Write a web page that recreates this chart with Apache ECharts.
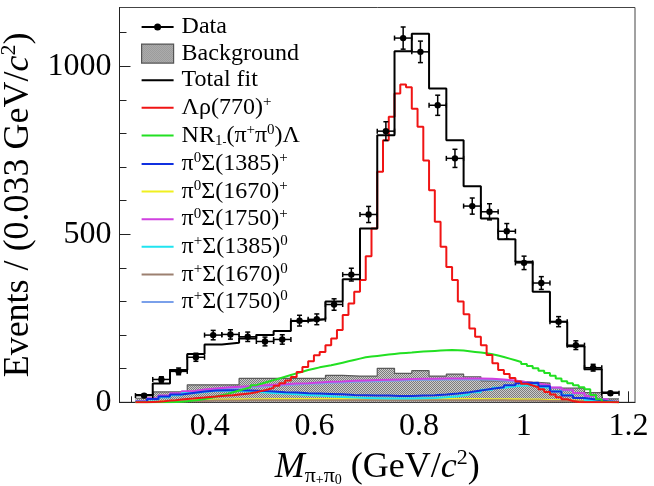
<!DOCTYPE html>
<html><head><meta charset="utf-8">
<script src="https://cdn.jsdelivr.net/npm/echarts@6/dist/echarts.min.js"></script>
<style>html,body{margin:0;padding:0;background:#fff}#c{width:654px;height:486px}</style>
</head><body><div id="c"></div>
<script>
// ---- binning (GeV/c^2) ----
const coarseLow = 0.258, coarseWidth = 0.033;   // data / fit / background bins
const fineLow = 0.258, fineWidth = 0.011;       // fine bins for rho and NR components
const midLow = 0.258, midWidth = 0.022;         // bins for the small Sigma components

// ---- tick labels ----
const xTickLabels = [0.4, 0.6, 0.8, 1, 1.2];
const xMinorTicks = [0.25, 0.3, 0.35, 0.45, 0.5, 0.55, 0.65, 0.7, 0.75, 0.85, 0.9, 0.95, 1.05, 1.1, 1.15];
const yTickLabels = [0, 500, 1000];
const yMinorTicks = [100, 200, 300, 400, 600, 700, 800, 900, 1100];

// ---- data (28 coarse bins) ----
const dataValues = [20, 68, 92, 134, 200, 202, 195, 181, 187, 243, 247, 291, 380, 559, 807, 1084, 1043, 884, 726, 584, 567, 509, 415, 355, 240, 170, 103, 27];
const dataErrors = [4.5, 8, 10, 12, 14, 14, 14, 13, 14, 16, 16, 17, 19, 24, 28, 33, 32, 30, 27, 24, 24, 23, 20, 19, 15, 13, 10, 5];
const totalFit = [22, 56, 96, 144, 172, 177, 190, 200, 212, 242, 247, 300, 366, 517, 795, 1045, 1097, 934, 780, 643, 547, 485, 418, 329, 240, 167, 98, 29];
const backgroundVals = [12, 31, 31, 52, 52, 52, 71, 71, 71, 71, 71, 80, 78, 78, 101, 86, 94, 78, 84, 76, 64, 64, 60, 57, 42, 42, 29, 10];

// ---- fine components (84 bins) ----
const rhoFine = [0, 0, 1, 2, 3, 5, 6, 8, 10, 11, 13, 14, 16, 17, 19, 20, 21, 23, 25, 27, 30, 34, 38, 43, 49, 57, 65, 75, 90, 105, 122, 140, 150, 170, 190, 215, 260, 294, 329, 364, 435, 517, 686, 780, 850, 919, 946, 938, 874, 820, 720, 631, 537, 463, 403, 364, 300, 262, 220, 195, 170, 141, 116, 96, 84, 72, 62, 55, 50, 45, 39, 31, 23, 15, 9, 4, 1, 0, 0, 0, 0, 0, 0, 0];
const nrFine = [0, 0, 0, 0, 0, 0, 1, 2, 3, 5, 7, 10, 13, 17, 21, 25, 30, 35, 40, 45, 51, 56, 61, 66, 71, 76, 81, 86, 91, 96, 100, 104, 107, 110, 114, 118, 122, 126, 130, 134, 136, 138, 140, 142, 144, 146, 147, 148, 150, 151, 152, 153, 154, 155, 156, 155, 154, 152, 150, 148, 146, 143, 139, 135, 130, 125, 120, 114, 108, 101, 94, 87, 79, 71, 63, 57, 51, 45, 39, 22, 9, 2, 0, 0];

// ---- Sigma components (42 bins) ----
const sig1385p = [2, 10, 17, 23, 28, 32, 35, 36, 36, 35, 34, 32, 30, 29, 27, 26, 25, 24, 22, 21, 20, 20, 19, 19, 20, 21, 23, 26, 30, 35, 40, 45, 51, 57, 58, 48, 32, 20, 13, 8, 3, 0];
const sig1670p = [0, 2, 4, 5, 6, 7, 8, 8, 9, 9, 9, 10, 10, 10, 10, 10, 10, 10, 10, 10, 10, 10, 10, 10, 10, 10, 10, 10, 10, 10, 9, 9, 9, 8, 8, 7, 6, 5, 4, 3, 2, 0];
const sig1750p = [3, 12, 20, 27, 33, 38, 41, 44, 46, 48, 50, 52, 54, 56, 57, 59, 61, 62, 64, 65, 66, 67, 68, 69, 70, 70, 71, 71, 71, 71, 70, 68, 65, 60, 56, 51, 44, 37, 28, 19, 9, 2];
const sig1385z = [2, 8, 15, 21, 27, 31, 34, 35, 34, 32, 30, 28, 26, 24, 22, 20, 18, 16, 14, 13, 12, 11, 11, 11, 12, 13, 15, 18, 23, 30, 37, 43, 48, 51, 50, 44, 33, 22, 13, 7, 3, 0];
const sig1670z = [0, 1, 2, 3, 4, 4, 5, 5, 5, 6, 6, 6, 6, 6, 6, 6, 6, 6, 6, 6, 6, 6, 6, 6, 6, 6, 6, 6, 6, 6, 6, 6, 5, 5, 5, 4, 4, 3, 3, 2, 1, 0];
const sig1750z = [2, 10, 17, 24, 30, 34, 38, 41, 43, 45, 47, 49, 51, 53, 55, 56, 58, 59, 61, 62, 63, 64, 65, 66, 67, 67, 68, 68, 68, 68, 67, 65, 62, 58, 54, 49, 43, 36, 27, 18, 8, 2];

// ---- colours ----
const colors = {
  'Total fit': '#000', rho: '#f01414', NR: '#22e022',
  s1385p: '#1030e0', s1670p: '#f0f020', s1750p: '#d040e0',
  s1385z: '#20e4f0', s1670z: '#9c8070', s1750z: '#7aa0ea'
};

// ---- helpers ----
function steps(low, width, vals) {
  const pts = [];
  vals.forEach((v, i) => { pts.push([low + i * width, v]); pts.push([low + (i + 1) * width, v]); });
  return pts;
}
function makePattern() {
  const cv = document.createElement('canvas'); cv.width = 2; cv.height = 2;
  const ctx = cv.getContext('2d');
  ctx.fillStyle = '#cccccc'; ctx.fillRect(0, 0, 2, 2);
  ctx.fillStyle = '#7c7c7c'; ctx.fillRect(0, 0, 1, 1); ctx.fillRect(1, 1, 1, 1);
  return { image: cv, repeat: 'repeat' };
}
const pattern = makePattern();
const serif = 'Liberation Serif';

const dataPoints = dataValues.map((v, i) => [coarseLow + (i + 0.5) * coarseWidth, v, dataErrors[i]]);

const legendText = {
  'Data': '{n|Data}',
  'Background': '{n|Background}',
  'Total fit': '{n|Total fit}',
  'rho': '{n|Λρ(770)}{sup|+}',
  'NR': '{n|NR}{sub|1}{subm|-}{n|(π}{sup|+}{n|π}{sup|0}{n|)Λ}',
  's1385p': '{n|π}{sup|0}{n|Σ(1385)}{sup|+}',
  's1670p': '{n|π}{sup|0}{n|Σ(1670)}{sup|+}',
  's1750p': '{n|π}{sup|0}{n|Σ(1750)}{sup|+}',
  's1385z': '{n|π}{sup|+}{n|Σ(1385)}{sup|0}',
  's1670z': '{n|π}{sup|+}{n|Σ(1670)}{sup|0}',
  's1750z': '{n|π}{sup|+}{n|Σ(1750)}{sup|0}'
};
const legendRich = {
  n: { fontFamily: serif, fontSize: 24, lineHeight: 26, color: '#000' },
  sup: { fontFamily: serif, fontSize: 15, lineHeight: 15, verticalAlign: 'top', color: '#000' },
  sub: { fontFamily: serif, fontSize: 15, lineHeight: 12, verticalAlign: 'bottom', color: '#000' },
  subm: { fontFamily: serif, fontSize: 12, lineHeight: 20, verticalAlign: 'bottom', color: '#000' }
};
const titleRich = {
  n: { fontFamily: serif, fontSize: 36, lineHeight: 40, color: '#000' },
  i: { fontFamily: serif, fontSize: 36, lineHeight: 40, fontStyle: 'italic', color: '#000' },
  sup: { fontFamily: serif, fontSize: 22, lineHeight: 22, verticalAlign: 'top', color: '#000' },
  sub: { fontFamily: serif, fontSize: 22, lineHeight: 22, verticalAlign: 'bottom', color: '#000' },
  subsup: { fontFamily: serif, fontSize: 14, lineHeight: 38, verticalAlign: 'bottom', color: '#000' }
};

function lineSeries(name, low, width, vals, lw) {
  return { name: name, type: 'line', data: steps(low, width, vals), symbol: 'none', showSymbol: false,
    lineStyle: { color: colors[name], width: lw }, itemStyle: { color: colors[name] }, clip: true, z: 3 };
}

const dataIcon = 'path://M0,0h0.01v0.01h-0.01z M0,8.6h32v1.8h-32z M12.5,9.5a3.5,3.5 0 1,1 7,0a3.5,3.5 0 1,1 -7,0z M31.99,18.99h0.01v0.01h-0.01z';
const lineIcon = 'path://M0,0h0.01v0.01h-0.01z M0,8.5h32v2h-32z M31.99,18.99h0.01v0.01h-0.01z';
const lineLegend = name => ({ name: name, icon: lineIcon, itemStyle: { color: colors[name], borderWidth: 0 } });

const option = {
  animation: false,
  backgroundColor: '#fff',
  grid: { left: 119.5, right: 19, top: 7.5, bottom: 83.7, show: true, borderColor: '#444', borderWidth: 1,
    containLabel: false, outerBoundsMode: 'none' },
  xAxis: [
    { type: 'value', min: 0.2275, max: 1.2125, position: 'bottom',
      name: '{i|M}{sub|π}{subsup|+}{sub|π}{subsup|0}{n| (GeV/}{i|c}{sup|2}{n|)}',
      nameLocation: 'middle', nameGap: 40, nameTextStyle: { rich: titleRich },
      axisLine: { show: true, onZero: false, lineStyle: { color: '#222', width: 1 } },
      axisTick: { show: true, inside: true, length: 11, customValues: xTickLabels, lineStyle: { color: '#222' } },
      axisLabel: { customValues: xTickLabels, fontFamily: serif, fontSize: 32, color: '#000', margin: 8,
        formatter: v => String(Math.round(v * 10) / 10) },
      splitLine: { show: false } },
    { type: 'value', min: 0.2275, max: 1.2125, position: 'bottom',
      axisLine: { show: false },
      axisTick: { show: true, inside: true, length: 6, customValues: xMinorTicks, lineStyle: { color: '#222' } },
      axisLabel: { show: false }, splitLine: { show: false } }
  ],
  yAxis: [
    { type: 'value', min: 0, max: 1175, interval: 500, position: 'left',
      name: '{n|Events / (0.033 GeV/}{i|c}{sup|2}{n|)}',
      nameLocation: 'middle', nameGap: 75, nameTextStyle: { rich: titleRich },
      axisLine: { show: true, lineStyle: { color: '#222', width: 1 } },
      axisTick: { show: true, inside: true, length: 11, customValues: yTickLabels, lineStyle: { color: '#222' } },
      axisLabel: { customValues: yTickLabels, fontFamily: serif, fontSize: 32, color: '#000', margin: 8,
        formatter: v => String(v) },
      splitLine: { show: false } },
    { type: 'value', min: 0, max: 1175, position: 'left',
      axisLine: { show: false },
      axisTick: { show: true, inside: true, length: 7, customValues: yMinorTicks, lineStyle: { color: '#222' } },
      axisLabel: { show: false }, splitLine: { show: false } }
  ],
  legend: {
    orient: 'vertical', left: 136, top: 10, itemWidth: 32, itemHeight: 19, itemGap: 2.6,
    selectedMode: false,
    textStyle: { fontFamily: serif, fontSize: 24, color: '#000', padding: [0, 0, 0, 3], rich: legendRich },
    formatter: name => legendText[name] || name,
    data: [
      { name: 'Data', icon: dataIcon, itemStyle: { color: '#000', borderWidth: 0 } },
      { name: 'Background', icon: 'rect', itemStyle: { color: pattern, borderColor: '#555', borderWidth: 1.2 } },
      lineLegend('Total fit'), lineLegend('rho'), lineLegend('NR'),
      lineLegend('s1385p'), lineLegend('s1670p'), lineLegend('s1750p'),
      lineLegend('s1385z'), lineLegend('s1670z'), lineLegend('s1750z')
    ]
  },
  series: [
    { name: 'Background', type: 'line', data: steps(coarseLow, coarseWidth, backgroundVals), symbol: 'none',
      lineStyle: { color: '#5a5a5a', width: 1.2 }, itemStyle: { color: '#888' },
      areaStyle: { color: pattern, opacity: 1 }, clip: true, z: 2 },
    lineSeries('s1670p', midLow, midWidth, sig1670p, 2),
    lineSeries('s1670z', midLow, midWidth, sig1670z, 2),
    lineSeries('s1750z', midLow, midWidth, sig1750z, 2),
    lineSeries('s1750p', midLow, midWidth, sig1750p, 2),
    lineSeries('s1385z', midLow, midWidth, sig1385z, 2),
    lineSeries('s1385p', midLow, midWidth, sig1385p, 2),
    lineSeries('NR', fineLow, fineWidth, nrFine, 2),
    lineSeries('rho', fineLow, fineWidth, rhoFine, 2),
    lineSeries('Total fit', coarseLow, coarseWidth, totalFit, 2),
    { name: 'Data', type: 'custom', data: dataPoints, itemStyle: { color: '#000' }, z: 5,
      encode: { x: 0, y: 1 },
      renderItem: function (params, api) {
        const x = api.value(0), y = api.value(1), e = api.value(2);
        const c = api.coord([x, y]);
        const t = api.coord([x, y + e]);
        const b = api.coord([x, Math.max(0, y - e)]);
        const l = api.coord([x - coarseWidth / 2, y]);
        const r = api.coord([x + coarseWidth / 2, y]);
        const st = { stroke: '#000', lineWidth: 1.5 };
        return { type: 'group', children: [
          { type: 'line', shape: { x1: c[0], y1: t[1], x2: c[0], y2: b[1] }, style: st },
          { type: 'line', shape: { x1: l[0], y1: c[1], x2: r[0], y2: c[1] }, style: st },
          { type: 'line', shape: { x1: c[0] - 2.5, y1: t[1], x2: c[0] + 2.5, y2: t[1] }, style: st },
          { type: 'line', shape: { x1: c[0] - 2.5, y1: b[1], x2: c[0] + 2.5, y2: b[1] }, style: st },
          { type: 'line', shape: { x1: l[0], y1: c[1] - 2.5, x2: l[0], y2: c[1] + 2.5 }, style: st },
          { type: 'line', shape: { x1: r[0], y1: c[1] - 2.5, x2: r[0], y2: c[1] + 2.5 }, style: st },
          { type: 'circle', shape: { cx: c[0], cy: c[1], r: 3.2 }, style: { fill: '#000' } }
        ] };
      } }
  ]
};
const chart = echarts.init(document.getElementById('c'), null, { renderer: 'canvas' });
chart.setOption(option);
</script></body></html>
